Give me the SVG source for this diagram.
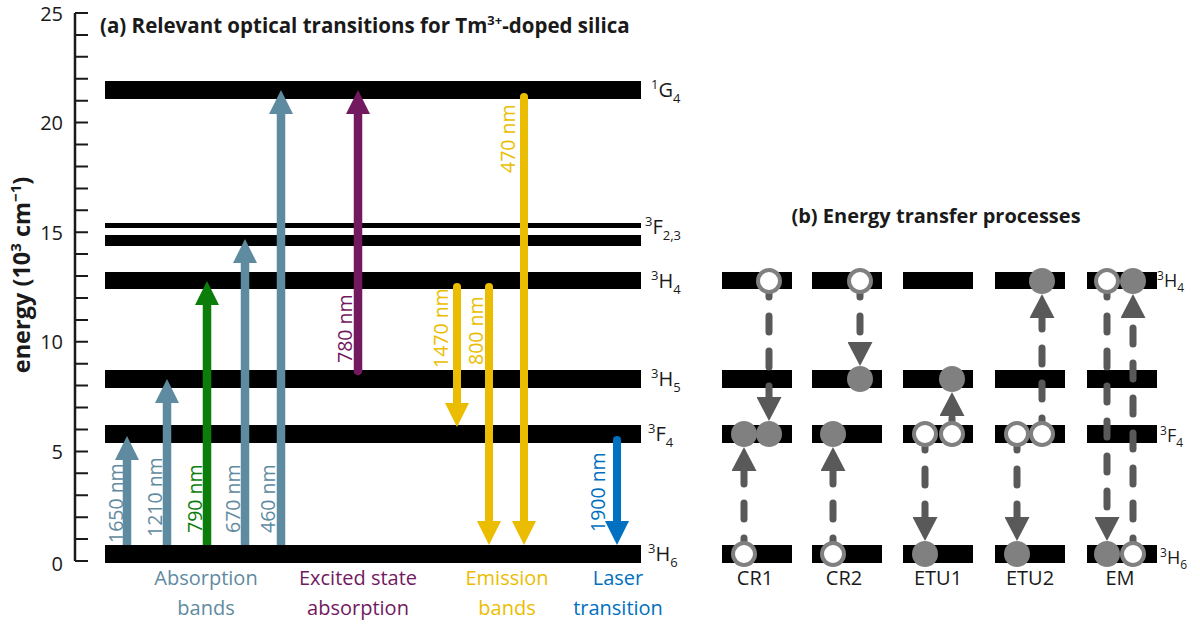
<svg xmlns="http://www.w3.org/2000/svg" width="1200" height="625" viewBox="0 0 1200 625">
<style>
text{font-family:"Open Sans","Noto Sans","Liberation Sans",sans-serif;fill:#1a1a1a}
.t{font-size:19.5px}
.b{font-weight:bold}
.lab{font-size:20px}
.lb{font-size:18px}
.bar{fill:#000}
.abs{stroke:#5f8ba0;stroke-width:8.5;fill:none}
.grn{stroke:#0a7d0a;stroke-width:8.5;fill:none}
.pur{stroke:#72195f;stroke-width:8.5;fill:none;stroke-linecap:round}
.yel{stroke:#ebbd00;stroke-width:8;fill:none;stroke-linecap:round}
.blu{stroke:#0070c0;stroke-width:8;fill:none;stroke-linecap:round}
.cA{fill:#5f8ba0}.cG{fill:#0a7d0a}.cP{fill:#72195f}.cY{fill:#ebbd00}.cB{fill:#0070c0}
.dash{stroke:#595959;stroke-width:7;fill:none;stroke-linecap:round;stroke-dasharray:16 19}
.fc{fill:#808080}
.oc{fill:#fff;stroke:#808080;stroke-width:4}
.tick{stroke:#1a1a1a;stroke-width:2}
</style>
<defs>
<marker id="mA" markerUnits="userSpaceOnUse" markerWidth="24" markerHeight="24" refX="0" refY="12" orient="auto" viewBox="0 0 24 24"><path d="M0,0L24,12L0,24z" fill="#5f8ba0"/></marker>
<marker id="mG" markerUnits="userSpaceOnUse" markerWidth="24" markerHeight="24" refX="0" refY="12" orient="auto" viewBox="0 0 24 24"><path d="M0,0L24,12L0,24z" fill="#0a7d0a"/></marker>
<marker id="mP" markerUnits="userSpaceOnUse" markerWidth="24" markerHeight="24" refX="0" refY="12" orient="auto" viewBox="0 0 24 24"><path d="M0,0L24,12L0,24z" fill="#72195f"/></marker>
<marker id="mY" markerUnits="userSpaceOnUse" markerWidth="24" markerHeight="24" refX="0" refY="12" orient="auto" viewBox="0 0 24 24"><path d="M0,0L24,12L0,24z" fill="#ebbd00"/></marker>
<marker id="mB" markerUnits="userSpaceOnUse" markerWidth="24" markerHeight="24" refX="0" refY="12" orient="auto" viewBox="0 0 24 24"><path d="M0,0L24,12L0,24z" fill="#0070c0"/></marker>
<marker id="mD" markerUnits="userSpaceOnUse" markerWidth="24" markerHeight="25" refX="0" refY="12.5" orient="auto" viewBox="0 0 24 25"><path d="M0,0L24,12.5L0,25z" fill="#595959"/></marker>
</defs>

<!-- axis -->
<g id="axis">
<path d="M75,13V561" stroke="#1a1a1a" stroke-width="2.5" fill="none"/>
<path class="tick" d="M75,13H88M75,34.9H88M75,56.8H88M75,78.8H88M75,100.7H88M75,122.6H88M75,144.5H88M75,166.4H88M75,188.4H88M75,210.3H88M75,232.2H88M75,254.1H88M75,276H88M75,298H88M75,319.9H88M75,341.8H88M75,363.7H88M75,385.6H88M75,407.6H88M75,429.5H88M75,451.4H88M75,473.3H88M75,495.2H88M75,517.2H88M75,539.1H88M75,561H88"/>
<text class="lab" x="63" y="21" text-anchor="end">25</text>
<text class="lab" x="63" y="130" text-anchor="end">20</text>
<text class="lab" x="63" y="240" text-anchor="end">15</text>
<text class="lab" x="63" y="349" text-anchor="end">10</text>
<text class="lab" x="63" y="459" text-anchor="end">5</text>
<text class="lab" x="63" y="571" text-anchor="end">0</text>
<text class="b" font-size="23.5" transform="translate(30,275) rotate(-90)" text-anchor="middle">energy (10<tspan font-size="15" dy="-9">3</tspan><tspan dy="9"> cm</tspan><tspan font-size="15" dy="-9">−1</tspan><tspan dy="9">)</tspan></text>
</g>

<text class="b" font-size="20.5" x="100" y="33">(a) Relevant optical transitions for Tm<tspan font-size="13" dy="-8">3+</tspan><tspan dy="8">-doped silica</tspan></text>

<!-- energy levels (a) -->
<g id="level-1G4"><rect class="bar" x="105" y="81" width="536" height="18"/><text class="lab" x="651" y="97"><tspan font-size="13" dy="-8">1</tspan><tspan dy="8">G</tspan><tspan font-size="13" dy="6">4</tspan></text></g>
<g id="level-3F23"><rect class="bar" x="105" y="223" width="536" height="5"/><rect class="bar" x="105" y="235" width="536" height="11"/><text class="lab" x="645" y="234"><tspan font-size="13" dy="-8">3</tspan><tspan dy="8">F</tspan><tspan font-size="13" dy="6">2,3</tspan></text></g>
<g id="level-3H4"><rect class="bar" x="105" y="272" width="536" height="17"/><text class="lab" x="651" y="288"><tspan font-size="13" dy="-8">3</tspan><tspan dy="8">H</tspan><tspan font-size="13" dy="6">4</tspan></text></g>
<g id="level-3H5"><rect class="bar" x="105" y="370" width="536" height="18"/><text class="lab" x="651" y="386"><tspan font-size="13" dy="-8">3</tspan><tspan dy="8">H</tspan><tspan font-size="13" dy="6">5</tspan></text></g>
<g id="level-3F4"><rect class="bar" x="105" y="425" width="536" height="18"/><text class="lab" x="648" y="441"><tspan font-size="13" dy="-8">3</tspan><tspan dy="8">F</tspan><tspan font-size="13" dy="6">4</tspan></text></g>
<g id="level-3H6"><rect class="bar" x="105" y="545" width="536" height="18"/><text class="lab" x="648" y="561"><tspan font-size="13" dy="-8">3</tspan><tspan dy="8">H</tspan><tspan font-size="13" dy="6">6</tspan></text></g>

<!-- transitions (a) -->
<g id="transitions">
<path class="abs" d="M127,545V460" marker-end="url(#mA)"/>
<path class="abs" d="M167,545V403" marker-end="url(#mA)"/>
<path class="grn" d="M207,545V305" marker-end="url(#mG)"/>
<path class="abs" d="M245,545V263" marker-end="url(#mA)"/>
<path class="abs" d="M281,545V114" marker-end="url(#mA)"/>
<path class="pur" d="M358,371V114" marker-end="url(#mP)"/>
<path class="yel" d="M457,287V403" marker-end="url(#mY)"/>
<path class="yel" d="M489,287V521" marker-end="url(#mY)"/>
<path class="yel" d="M524,97V521" marker-end="url(#mY)"/>
<path class="blu" d="M617,440V521" marker-end="url(#mB)"/>
</g>
<g id="transition-labels" class="t">
<text class="cA" transform="translate(123,543) rotate(-90)">1650 nm</text>
<text class="cA" transform="translate(162,537) rotate(-90)">1210 nm</text>
<text class="cG" transform="translate(202,533) rotate(-90)">790 nm</text>
<text class="cA" transform="translate(240,533) rotate(-90)">670 nm</text>
<text class="cA" transform="translate(275,533) rotate(-90)">460 nm</text>
<text class="cP" transform="translate(352,363) rotate(-90)">780 nm</text>
<text class="cY" transform="translate(448,368) rotate(-90)">1470 nm</text>
<text class="cY" transform="translate(483,365) rotate(-90)">800 nm</text>
<text class="cY" transform="translate(515,173) rotate(-90)">470 nm</text>
<text class="cB" transform="translate(605,532) rotate(-90)">1900 nm</text>
</g>
<g id="legend" class="lab" text-anchor="middle">
<text class="cA" x="206" y="585">Absorption</text><text class="cA" x="206" y="615">bands</text>
<text class="cP" x="358" y="585">Excited state</text><text class="cP" x="358" y="615">absorption</text>
<text class="cY" x="507" y="585">Emission</text><text class="cY" x="507" y="615">bands</text>
<text class="cB" x="618" y="585">Laser</text><text class="cB" x="618" y="615">transition</text>
</g>

<!-- panel (b) -->
<text class="b" font-size="20" x="936" y="223" text-anchor="middle">(b) Energy transfer processes</text>
<g id="b-bars">
<rect class="bar" x="722" y="272" width="70" height="17"/><rect class="bar" x="812" y="272" width="70" height="17"/><rect class="bar" x="903" y="272" width="70" height="17"/><rect class="bar" x="995" y="272" width="70" height="17"/><rect class="bar" x="1087" y="272" width="70" height="17"/>
<rect class="bar" x="722" y="370" width="70" height="18"/><rect class="bar" x="812" y="370" width="70" height="18"/><rect class="bar" x="903" y="370" width="70" height="18"/><rect class="bar" x="995" y="370" width="70" height="18"/><rect class="bar" x="1087" y="370" width="70" height="18"/>
<rect class="bar" x="722" y="425" width="70" height="18"/><rect class="bar" x="812" y="425" width="70" height="18"/><rect class="bar" x="903" y="425" width="70" height="18"/><rect class="bar" x="995" y="425" width="70" height="18"/><rect class="bar" x="1087" y="425" width="70" height="18"/>
<rect class="bar" x="722" y="545" width="70" height="18"/><rect class="bar" x="812" y="545" width="70" height="18"/><rect class="bar" x="903" y="545" width="70" height="18"/><rect class="bar" x="995" y="545" width="70" height="18"/><rect class="bar" x="1087" y="545" width="70" height="18"/>
<text class="lb" x="1157" y="287"><tspan font-size="12" dy="-7">3</tspan><tspan dy="7">H</tspan><tspan font-size="12" dy="5">4</tspan></text>
<text class="lb" x="1160" y="442"><tspan font-size="12" dy="-7">3</tspan><tspan dy="7">F</tspan><tspan font-size="12" dy="5">4</tspan></text>
<text class="lb" x="1160" y="564"><tspan font-size="12" dy="-7">3</tspan><tspan dy="7">H</tspan><tspan font-size="12" dy="5">6</tspan></text>
</g>
<g id="b-connectors">
<path class="dash" d="M769,281V397" marker-end="url(#mD)"/>
<path class="dash" d="M744,554V471" marker-end="url(#mD)"/>
<path class="dash" d="M860,281V342" marker-end="url(#mD)"/>
<path class="dash" d="M833,554V471" marker-end="url(#mD)"/>
<path class="dash" d="M952,434V416" marker-end="url(#mD)"/>
<path class="dash" d="M925,434V517" marker-end="url(#mD)"/>
<path class="dash" d="M1042,434V318" marker-end="url(#mD)"/>
<path class="dash" d="M1017,434V517" marker-end="url(#mD)"/>
<path class="dash" d="M1107,281V517" marker-end="url(#mD)"/>
<path class="dash" d="M1133,554V318" marker-end="url(#mD)"/>
</g>
<g id="CR1"><circle class="oc" cx="769" cy="281" r="11"/><circle class="fc" cx="744" cy="434" r="13"/><circle class="fc" cx="769" cy="434" r="13"/><circle class="oc" cx="744" cy="554" r="11"/><text class="lab" x="755" y="585" text-anchor="middle">CR1</text></g>
<g id="CR2"><circle class="oc" cx="860" cy="281" r="11"/><circle class="fc" cx="860" cy="379" r="13"/><circle class="fc" cx="833" cy="434" r="13"/><circle class="oc" cx="833" cy="554" r="11"/><text class="lab" x="844" y="585" text-anchor="middle">CR2</text></g>
<g id="ETU1"><circle class="fc" cx="952" cy="379" r="13"/><circle class="oc" cx="925" cy="434" r="11"/><circle class="oc" cx="952" cy="434" r="11"/><circle class="fc" cx="925" cy="554" r="13"/><text class="lab" x="938" y="585" text-anchor="middle">ETU1</text></g>
<g id="ETU2"><circle class="fc" cx="1042" cy="281" r="13"/><circle class="oc" cx="1017" cy="434" r="11"/><circle class="oc" cx="1042" cy="434" r="11"/><circle class="fc" cx="1017" cy="554" r="13"/><text class="lab" x="1030" y="585" text-anchor="middle">ETU2</text></g>
<g id="EM"><circle class="oc" cx="1107" cy="281" r="11"/><circle class="fc" cx="1133" cy="281" r="13"/><circle class="fc" cx="1107" cy="554" r="13"/><circle class="oc" cx="1133" cy="554" r="11"/><text class="lab" x="1120" y="585" text-anchor="middle">EM</text></g>
</svg>
